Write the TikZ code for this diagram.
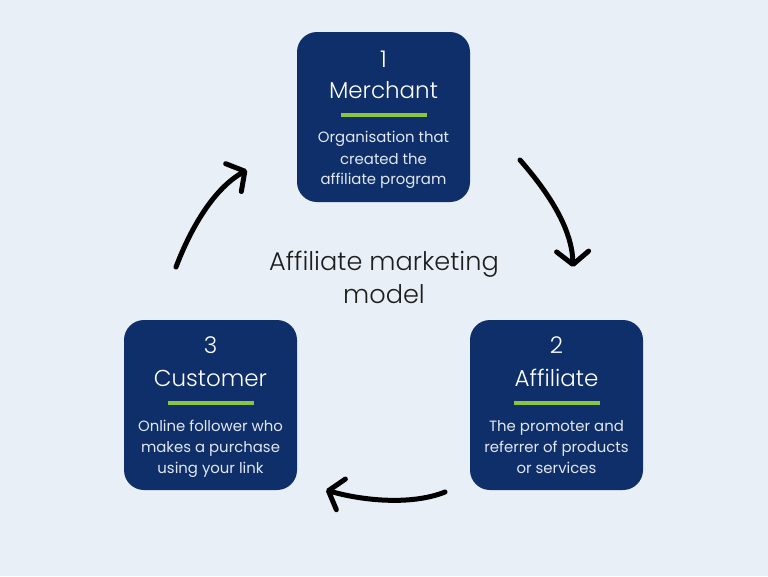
\documentclass[tikz,border=0pt]{standalone}
\usepackage{fontspec}
\setmainfont{Poppins Light}
\newfontfamily\descfont{Poppins}
\usetikzlibrary{arrows.meta}
\definecolor{bgc}{HTML}{E8EFF7}
\definecolor{boxc}{HTML}{0F2F6A}
\definecolor{barc}{HTML}{8CC63F}
\definecolor{descc}{HTML}{E2E8F2}
\definecolor{centc}{HTML}{1E1E1E}
\tikzset{
  card/.style={fill=boxc, rounded corners=20pt, minimum width=173pt, minimum height=170pt, inner sep=0pt},
  numtxt/.style={anchor=base, text=white, font=\fontsize{23}{23}\selectfont, inner sep=0pt},
  titletxt/.style={anchor=base, text=white, font=\fontsize{23}{23}\selectfont, inner sep=0pt},
  desctxt/.style={anchor=base, text=descc, font=\descfont\fontsize{14.9}{14.9}\selectfont, inner sep=0pt},
  bar/.style={draw=barc, line width=3.5pt},
  centertxt/.style={anchor=base, text=centc, font=\fontsize{25.6}{25.6}\selectfont, inner sep=0pt},
  flow/.style={draw=black, line width=5pt, line cap=round, -{Straight Barb[round, length=13pt, width=32pt]}}
}
\begin{document}
\begin{tikzpicture}[x=1pt, y=-1pt]
\fill[bgc] (0,0) rectangle (768,576);
\useasboundingbox (0,0) rectangle (768,576);
% cards
\node[card] (merchant) at (383.5,117) {};
\node[card] (customer) at (210.5,405) {};
\node[card] (affiliate) at (556.5,405) {};
% merchant texts
\node[numtxt] (m1) at (383.5,67) {1};
\node[titletxt] (m2) at (383.5,98) {Merchant};
\draw[bar] (341,115) -- (427,115);
\node[desctxt] (m3) at (383.5,142) {Organisation that};
\node[desctxt] (m4) at (383.5,164) {created the};
\node[desctxt] (m5) at (383.5,184) {affiliate program};
% customer texts
\node[numtxt] (c1) at (210.5,353) {3};
\node[titletxt] (c2) at (210.5,386) {Customer};
\draw[bar] (168,403) -- (254,403);
\node[desctxt] (c3) at (210.5,431) {Online follower who};
\node[desctxt] (c4) at (210.5,452) {makes a purchase};
\node[desctxt] (c5) at (210.5,473) {using your link};
% affiliate texts
\node[numtxt] (a1) at (556.5,353) {2};
\node[titletxt] (a2) at (556.5,386) {Affiliate};
\draw[bar] (514,403) -- (600,403);
\node[desctxt] (a3) at (556.5,431) {The promoter and};
\node[desctxt] (a4) at (556.5,452) {referrer of products};
\node[desctxt] (a5) at (556.5,473) {or services};
% center
\node[centertxt] (t1) at (384,270) {Affiliate marketing};
\node[centertxt] (t2) at (384,303) {model};
% arrows
\coordinate (s1) at (176,267);
\coordinate (e1) at (247,170);
\coordinate (s2) at (520,160);
\coordinate (e2) at (573,267);
\coordinate (s3) at (445,492);
\coordinate (e3) at (326,490);
\draw[flow] (s1) .. controls (192,225) and (215,188) .. (e1);
\draw[flow] (s2) .. controls (548,192) and (572,228) .. (e2);
\draw[flow] (s3) .. controls (410,506) and (360,500) .. (e3);
\end{tikzpicture}
\end{document}
